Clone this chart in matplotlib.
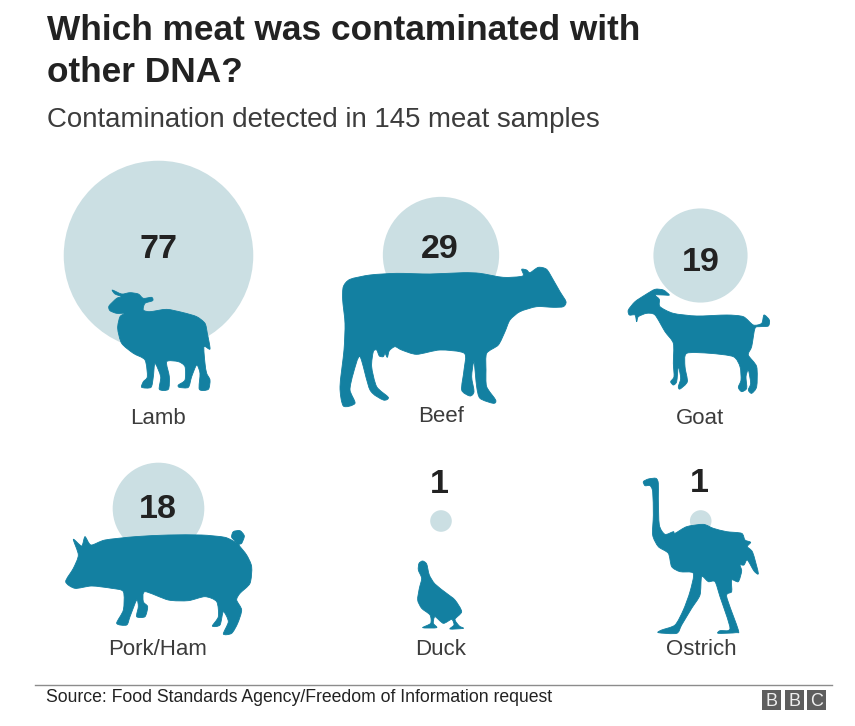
import numpy as np
import matplotlib
matplotlib.use('Agg')
import matplotlib.pyplot as plt
from matplotlib.patches import Circle, PathPatch, Rectangle
from matplotlib.path import Path

plt.rcParams['font.family'] = ['Liberation Sans', 'DejaVu Sans']

meats = ['Lamb', 'Beef', 'Goat', 'Pork/Ham', 'Duck', 'Ostrich']
counts = [77, 29, 19, 18, 1, 1]

TEAL = '#1380a1'
PALE = '#cbdfe3'
DARK = '#222222'
GREY = '#3c3c3c'

# circle area follows the count
radius_scale = 10.8
centres = [(158.5, 255.5), (441, 255), (700.5, 255.5), (158.5, 508.5), (441, 521), (700.7, 521)]
number_pos = [(158, 258), (440, 258), (701, 271), (158, 518), (439, 493), (699, 492)]
label_pos = [(158, 424), (441, 422), (700, 424), (158, 655), (441, 655), (701, 655)]

lamb = ((50, 150), [(187,420),(215,432),(240,428),(265,432),(280,445),(305,442),(308,452),(285,460),(280,480),(300,485),
    (350,478),(400,488),(440,500),(465,520),(472,550),(480,597),(462,590),(465,640),(470,670),(480,690),(475,718),(448,718),
    (450,670),(440,645),(425,680),(415,712),(388,712),(385,705),(405,690),(405,650),(385,635),(350,635),(358,680),(355,718),
    (328,718),(332,680),(315,640),(310,680),(303,712),(275,712),(280,695),(292,680),(285,630),(250,610),(215,580),(203,535),
    (210,500),(225,490),(200,490),(180,482),(177,468),(200,445),(215,440),(195,432)])
cow = ((330, 190), [(40,290),(60,268),(120,255),(200,250),(300,252),(400,248),(450,250),(520,262),(578,258),(575,238),
    (590,240),(600,248),(625,232),(650,238),(670,270),(690,305),(708,335),(700,350),(670,352),(620,350),(570,365),(540,390),
    (525,425),(505,465),(470,490),(468,540),(470,590),(497,630),(490,640),(450,625),(440,590),(432,515),(425,560),(432,605),
    (420,618),(395,600),(402,540),(403,490),(330,480),(260,493),(215,480),(195,470),(178,482),(172,502),(165,490),(160,500),
    (148,498),(140,480),(130,485),(125,530),(140,590),(175,622),(160,630),(120,600),(90,500),(70,550),(60,600),(75,640),
    (40,648),(30,590),(42,480),(45,400),(38,330)])
goat = ((610, 200), [(55,330),(75,305),(105,285),(135,268),(160,270),(178,285),(160,285),(135,285),(148,298),(150,320),
    (190,340),(260,348),(350,345),(400,350),(430,375),(455,370),(462,345),(478,360),(475,378),(450,380),(435,385),(425,440),
    (415,465),(440,500),(440,560),(425,580),(415,570),(422,550),(415,510),(408,530),(410,565),(395,575),(385,562),(393,540),
    (390,500),(370,470),(300,460),(230,460),(225,500),(232,545),(210,567),(205,560),(212,535),(205,500),(200,545),(190,555),
    (182,545),(192,530),(190,490),(190,430),(165,395),(135,345),(110,340),(85,350),(80,365),(75,345),(58,345)])
pig = ((55, 460), [(32,365),(55,325),(70,285),(55,238),(80,258),(90,230),(108,255),(150,240),(240,230),(340,225),(440,225),
    (510,232),(545,248),(530,232),(535,215),(555,212),(568,228),(560,250),(552,255),(575,285),(590,320),(585,370),(555,400),
    (545,420),(560,450),(548,490),(530,520),(505,522),(520,485),(505,455),(495,495),(472,498),(490,470),(485,425),(450,410),
    (400,422),(340,420),(270,395),(265,425),(278,440),(270,470),(245,470),(250,440),(245,420),(225,470),(215,495),(185,490),
    (205,450),(205,395),(170,385),(110,378),(60,385)])
duck = ((400, 460), [(57,310),(68,303),(80,312),(88,345),(105,372),(140,400),(165,420),(185,455),(165,478),(178,498),
    (190,505),(150,507),(162,495),(155,478),(130,490),(105,470),(100,490),(110,503),(68,503),(92,490),(90,465),(65,445),
    (53,420),(58,385),(65,355),(55,330)])
ostrich = ((630, 465), [(40,50),(55,42),(78,40),(85,55),(85,100),(88,180),(105,208),(130,200),(135,205),(170,185),(220,178),
    (250,190),(290,200),(335,205),(345,225),(362,232),(352,245),(368,262),(385,325),(372,318),(352,285),(342,300),(330,300),
    (335,318),(325,350),(305,345),(305,380),(290,395),(325,495),(318,503),(265,505),(270,497),(300,490),(270,395),(255,350),
    (235,350),(215,335),(210,390),(185,430),(155,480),(140,505),(85,503),(95,495),(135,480),(160,435),(180,380),(190,325),
    (150,320),(125,305),(115,265),(85,245),(68,210),(70,150),(68,80),(60,62),(45,62)])
animals = [lamb, cow, goat, pig, duck, ostrich]


def smooth_outline(pts):
    # closed catmull-rom through the traced points
    verts = [pts[0]]
    codes = [Path.MOVETO]
    n = len(pts)
    for i in range(n):
        p0, p1, p2, p3 = pts[i-1], pts[i], pts[(i+1) % n], pts[(i+2) % n]
        verts += [p1 + (p2-p0)/8, p2 - (p3-p1)/8, p2]
        codes += [Path.CURVE4]*3
    return Path(verts, codes)


fig = plt.figure(figsize=(8.55, 7.26), dpi=100)
ax = fig.add_axes([0, 0, 1, 1])
ax.set_xlim(0, 855)
ax.set_ylim(726, 0)
ax.axis('off')

for n, c in zip(counts, centres):
    ax.add_patch(Circle(c, radius_scale*np.sqrt(n), fc=PALE, ec='none', zorder=1))

for origin, outline in animals:
    pts = np.array(outline)/3 + np.array(origin)
    ax.add_patch(PathPatch(smooth_outline(pts), fc=TEAL, ec=TEAL, lw=0.6, joinstyle='round', zorder=2))

for n, p in zip(counts, number_pos):
    ax.text(p[0], p[1], str(n), fontsize=24.5, fontweight='bold', color=DARK, ha='center', va='baseline', zorder=3)

for name, p in zip(meats, label_pos):
    ax.text(p[0], p[1], name, fontsize=16, color=GREY, ha='center', va='baseline', zorder=3)

ax.text(47, 40, 'Which meat was contaminated with', fontsize=25.4, fontweight='bold', color=DARK, va='baseline')
ax.text(47, 82, 'other DNA?', fontsize=25.4, fontweight='bold', color=DARK, va='baseline')
ax.text(47, 127, 'Contamination detected in 145 meat samples', fontsize=19.9, color=GREY, va='baseline')

# footer
ax.plot([35, 832], [685, 685], color='#8c8c8c', lw=1)
ax.text(46, 702, 'Source: Food Standards Agency/Freedom of Information request', fontsize=12.7, color=DARK, va='baseline')
for x, letter in zip([762, 784.5, 807], 'BBC'):
    ax.add_patch(Rectangle((x, 690), 19, 20, fc='#5e5e5e', ec='none'))
    ax.text(x+9.5, 706, letter, fontsize=13, color='#eeeeee', ha='center', va='baseline')

fig.savefig('out.png', dpi=100)
